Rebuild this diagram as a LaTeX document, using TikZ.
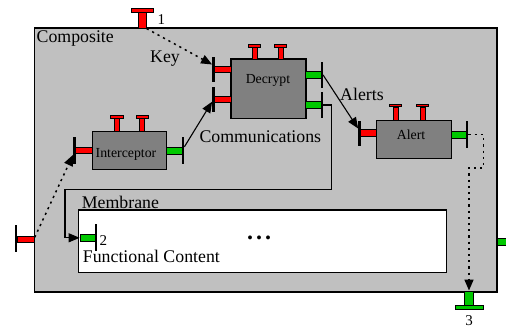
\documentclass[tikz,border=0pt]{standalone}
\usepackage{fontspec}
\setmainfont{Liberation Serif}
\usetikzlibrary{arrows.meta}

\definecolor{compgray}{RGB}{192,192,192}
\definecolor{boxgray}{RGB}{128,128,128}
\definecolor{portred}{RGB}{255,0,0}
\definecolor{portgreen}{RGB}{0,200,0}

\newcommand\bigtxt{\fontsize{17.8}{20}\selectfont}
\newcommand\boxtxt{\fontsize{13.8}{16}\selectfont}
\newcommand\numtxt{\fontsize{15}{17}\selectfont}
\newcommand\dotstxt{\fontsize{24}{26}\selectfont\bfseries}

\tikzset{
  composite/.style={draw=black, fill=compgray, line width=1.2pt, inner sep=0pt},
  component/.style={draw=black, fill=boxgray, line width=1.2pt, inner sep=0pt},
  content/.style={draw=black, fill=white, line width=1.2pt, inner sep=0pt},
  redport/.style={draw=black, fill=portred, line width=0.9pt, inner sep=0pt},
  greenport/.style={draw=black, fill=portgreen, line width=0.9pt, inner sep=0pt},
  portbar/.style={fill=black, draw=none, inner sep=0pt, minimum width=2.4pt},
  tstem/.style={redport, minimum width=5pt},
  tbar/.style={redport, minimum width=12.5pt, minimum height=2.8pt},
  biglabel/.style={font=\bigtxt, inner sep=0pt},
  boxlabel/.style={font=\boxtxt, inner sep=0pt},
  numlabel/.style={font=\numtxt, inner sep=0pt},
  conn/.style={line width=1.1pt, -{Triangle[length=11pt,width=9pt]}},
  dotconn/.style={line width=1.5pt, dash pattern=on 2.2pt off 4pt,
                  -{Triangle[length=11pt,width=9pt]}},
}

\begin{document}
\begin{tikzpicture}[x=1pt, y=-1pt]
\useasboundingbox (0,0) rectangle (506,328);

% composite frame and functional content area
\node[composite, minimum width=462.5pt, minimum height=264pt] (comp) at (265.75,160) {};
\node[content, minimum width=368.4pt, minimum height=62.3pt] (fc) at (262.5,241.15) {};

% components
\node[component, minimum width=75pt, minimum height=59.5pt] (dec) at (268.5,88.75) {};
\node[component, minimum width=74pt, minimum height=37.6pt] (int) at (129.7,150.5) {};
\node[component, minimum width=74.8pt, minimum height=38pt] (alr) at (414.1,139.7) {};

\node[boxlabel, anchor=base] (declbl) at (268,83.3) {Decrypt};
\node[boxlabel, anchor=base] (intlbl) at (126,157.3) {Interceptor};
\node[boxlabel, anchor=base] (alrlbl) at (411,140) {Alert};

% control ports on top of the components
\node[tstem, minimum height=12pt] (dect1s) at (254.5,53) {};
\node[tbar] (dect1b) at (254.5,45.6) {};
\node[tstem, minimum height=12pt] (dect2s) at (280.5,53) {};
\node[tbar] (dect2b) at (280.5,45.6) {};

\node[tstem, minimum height=13.2pt] (intt1s) at (117,125.1) {};
\node[tbar] (intt1b) at (117,116.9) {};
\node[tstem, minimum height=13.2pt] (intt2s) at (142.3,125.1) {};
\node[tbar] (intt2b) at (142.3,116.9) {};

\node[tstem, minimum height=13.6pt] (alrt1s) at (395.5,113.9) {};
\node[tbar] (alrt1b) at (395.5,105.5) {};
\node[tstem, minimum height=13.6pt] (alrt2s) at (422.5,113.9) {};
\node[tbar] (alrt2b) at (422.5,105.5) {};

% Decrypt side ports
\node[redport, minimum width=16.3pt, minimum height=6.5pt] (dkin1) at (222.9,69.7) {};
\node[portbar, minimum height=24.4pt] (dkin1b) at (213.5,69.5) {};
\node[redport, minimum width=16.3pt, minimum height=6.5pt] (dkin2) at (222.9,99.7) {};
\node[portbar, minimum height=24.4pt] (dkin2b) at (213.5,99.7) {};
\node[greenport, minimum width=16.3pt, minimum height=7.5pt] (dkout1) at (313.3,75) {};
\node[portbar, minimum height=26.6pt] (dkout1b) at (321.7,75) {};
\node[greenport, minimum width=16.3pt, minimum height=7.5pt] (dkout2) at (313.3,105) {};
\node[portbar, minimum height=26.6pt] (dkout2b) at (321.7,105) {};

% Interceptor side ports
\node[redport, minimum width=18pt, minimum height=6.5pt] (intin) at (83.7,150.3) {};
\node[portbar, minimum height=27pt] (intinb) at (74.5,150.8) {};
\node[greenport, minimum width=16pt, minimum height=7pt] (intout) at (174.7,150.7) {};
\node[portbar, minimum height=27pt] (intoutb) at (183,150.8) {};

% Alert side ports
\node[redport, minimum width=17.7pt, minimum height=6.7pt] (alrin) at (367.8,133.3) {};
\node[portbar, minimum height=25pt] (alrinb) at (359.5,133.5) {};
\node[greenport, minimum width=15pt, minimum height=7pt] (alrout) at (459,135) {};
\node[portbar, minimum height=27.6pt] (alroutb) at (467,134.5) {};

% ports of the composite
\node[redport, minimum width=7.5pt, minimum height=16pt] (p1s) at (142.5,20.2) {};
\node[redport, minimum width=21.5pt, minimum height=3.5pt] (p1b) at (142.5,10.7) {};
\node[redport, minimum width=17pt, minimum height=6.5pt] (pin) at (25.8,239.3) {};
\node[portbar, minimum height=26.7pt] (pinb) at (16.2,238.3) {};
\node[greenport, minimum width=15pt, minimum height=7pt] (p2) at (87.6,237.8) {};
\node[portbar, minimum height=26.7pt] (p2b) at (96.2,237.3) {};
\node[greenport, minimum width=9pt, minimum height=15pt] (p3s) at (469,298.5) {};
\node[greenport, minimum width=28pt, minimum height=3.5pt] (p3b) at (469,307.7) {};
\node[greenport, minimum width=12pt, minimum height=7pt] (pr) at (503,241.7) {};

% labels
\node[biglabel, anchor=base west] (complbl) at (36.5,42.5) {Composite};
\node[biglabel, anchor=base west] (keylbl) at (150,62.3) {Key};
\node[biglabel, anchor=base west] (commlbl) at (199.3,142.7) {Communications};
\node[biglabel, anchor=base west] (alertslbl) at (340,100.7) {Alerts};
\node[biglabel, anchor=base west] (memlbl) at (81.7,208.3) {Membrane};
\node[biglabel, anchor=base west] (fclbl) at (82.7,262.7) {Functional Content};
\node[font=\dotstxt, inner sep=0pt, anchor=base] (dots) at (259,240)
  {.\hspace{3pt}.\hspace{3pt}.};
\node[numlabel, anchor=base west] (n1) at (157.5,24.5) {1};
\node[numlabel, anchor=base west] (n2) at (99.5,246) {2};
\node[numlabel, anchor=base] (n3) at (469,325.3) {3};

% connector corner points
\coordinate (m1) at (331.7,189.5);
\coordinate (m2) at (65,189.5);
\coordinate (j1) at (483.3,168);

% connectors
\draw[dotconn] (p1s.south east) -- ([yshift=5pt]dkin1b.west);
\draw[conn] ([yshift=4pt]intoutb.east) -- ([yshift=-2pt]dkin2b.west);
\draw[conn] (dkout1b.east) -- ([yshift=5pt]alrinb.west);
\draw[conn] (dkout2b.east) -| (m1) -- (m2) |- (p2.west);
\draw[dotconn] ([yshift=2pt]pin.east) -- ([yshift=-4pt]intinb.west);
\draw[dotconn] (alroutb.east) -| (j1) -| (p3s.north);
\end{tikzpicture}
\end{document}
